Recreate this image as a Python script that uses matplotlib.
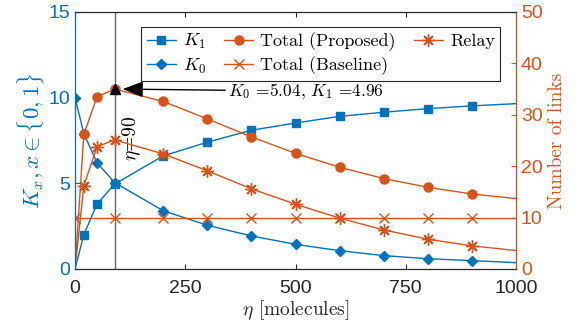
import numpy as np
import matplotlib
matplotlib.use('Agg')
import matplotlib.pyplot as plt

plt.rcParams['mathtext.fontset'] = 'cm'
plt.rcParams['font.family'] = ['Liberation Sans', 'DejaVu Sans']

blue = '#0072BD'
orange = '#D95319'

# eta values (last point has no marker)
eta = [0, 20, 50, 90, 200, 300, 400, 500, 600, 700, 800, 900, 1000]
k1 = [0, 2.0, 3.8, 4.96, 6.6, 7.4, 8.1, 8.52, 8.91, 9.15, 9.36, 9.52, 9.65]
k0 = [10.0, 7.9, 6.2, 5.04, 3.4, 2.55, 1.93, 1.44, 1.07, 0.78, 0.6, 0.49, 0.37]
total_proposed = [0, 26.2, 33.5, 35.0, 32.6, 29.2, 25.7, 22.5, 19.8, 17.6, 15.9, 14.6, 13.7]
total_baseline = [10] * 13
relay = [0, 16.2, 23.8, 25.1, 22.4, 19.1, 15.6, 12.6, 9.9, 7.6, 5.8, 4.5, 3.6]

eta_opt = 90
opt_links = 35.0

fig = plt.figure(figsize=(5.87, 3.33), dpi=100)
ax = fig.add_axes([0.1278, 0.1922, 0.7513, 0.7718])
ax2 = ax.twinx()

asterisk = (8, 2, 0)
mk = list(range(1, 12))
ax.axvline(eta_opt, color='0.4', lw=1, zorder=1)
l1, = ax.plot(eta, k1, '-s', color=blue, lw=1, ms=6, markevery=mk, label='$K_1$')
l0, = ax.plot(eta, k0, '-D', color=blue, lw=1, ms=5.5, markevery=list(range(0, 12)), label='$K_0$')

l2, = ax2.plot(eta, total_proposed, '-o', color=orange, lw=1, ms=6.5, markevery=mk,
               label='Total (Proposed)')
l3, = ax2.plot(eta, total_baseline, '-x', color=orange, lw=1, ms=7, mew=1,
               markevery=[0] + list(range(3, 12)), label='Total (Baseline)')
l4, = ax2.plot(eta, relay, '-', marker=asterisk, color=orange, lw=1, ms=9, mew=1,
               markevery=mk, label='Relay')
ax2.plot([eta_opt], [opt_links], '^', color='k', ms=7, zorder=5)

ax2.annotate('$K_0$ =5.04, $K_1$ =4.96', xy=(108, opt_links), xytext=(347, 34.6),
             fontsize=12.5, fontfamily='cmr10', va='center', ha='left',
             arrowprops=dict(arrowstyle='-|>,head_length=0.9,head_width=0.35',
                             color='k', lw=1, mutation_scale=14,
                             shrinkA=0, shrinkB=0))
ax.text(128, 7.65, r'$\eta$=90', rotation=90, fontsize=14, fontfamily='cmr10',
        va='center', ha='center')

ax.set_xlim(0, 1000)
ax.set_ylim(0, 15)
ax2.set_ylim(0, 50)
ax.set_xticks([0, 250, 500, 750, 1000])
ax.set_yticks([0, 5, 10, 15])
ax2.set_yticks([0, 10, 20, 30, 40, 50])

ax.tick_params(axis='x', direction='in', labelsize=14, top=True, colors='0.15', pad=8)
ax.tick_params(axis='y', direction='in', labelsize=14, colors=blue)
ax2.tick_params(axis='y', direction='in', labelsize=14, colors=orange)
ax2.spines['left'].set_color(blue)
ax2.spines['right'].set_color(orange)
for sp in ['top', 'bottom']:
    ax2.spines[sp].set_color('0.15')

ax.set_xlabel(r'$\eta$ [molecules]', fontsize=14, fontfamily='cmr10', color='0.15', labelpad=1)
ax.set_ylabel(r'$K_x, x\in\{0,1\}$', fontsize=16.5, color=blue, labelpad=2)
ax2.set_ylabel('Number of links', fontsize=14, fontfamily='cmr10', color=orange, labelpad=4)

leg = ax2.legend(handles=[l1, l0, l2, l3, l4], ncol=3, loc='upper right',
                 bbox_to_anchor=(0.964, 0.942), borderaxespad=0, fancybox=False,
                 edgecolor='0.15', framealpha=1, prop={'family': 'cmr10', 'size': 13},
                 handlelength=1.6, columnspacing=1.0, handletextpad=0.4,
                 labelspacing=0.3, borderpad=0.3)
leg.get_frame().set_linewidth(0.8)

fig.savefig('out.png', dpi=100)
